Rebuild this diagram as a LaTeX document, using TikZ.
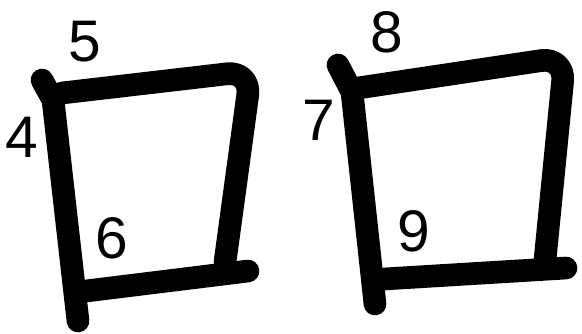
\documentclass[tikz,border=0pt]{standalone}
\usepackage{fontspec}
\setmainfont{Liberation Sans}
\begin{document}
\begin{tikzpicture}[x=0.75pt,y=-0.75pt,line join=round,line cap=round,
	brush/.style={line width=17pt,black},
	digit/.style={inner sep=0pt,font=\fontsize{44}{44}\selectfont}]
	\useasboundingbox (0,0) rectangle (582,333);
	% first character
	\draw[brush] (42,80)--(53,100)--(78,321);
	\draw[brush,rounded corners=18pt] (62,93)--(251,71)--(225,262);
	\draw[brush] (86,291)--(248,271);
	\node[digit] (n4) at (22,137) {4};
	\node[digit] (n5) at (85,42) {5};
	\node[digit] (n6) at (112,238) {6};
	% second character
	\draw[brush] (338,65)--(352,92)--(375,304);
	\draw[brush,rounded corners=18pt] (358,88)--(565,57)--(545,260);
	\draw[brush] (384,279)--(566,268);
	\node[digit] (n7) at (319,120) {7};
	\node[digit] (n8) at (387,32) {8};
	\node[digit] (n9) at (414,231) {9};
\end{tikzpicture}
\end{document}
